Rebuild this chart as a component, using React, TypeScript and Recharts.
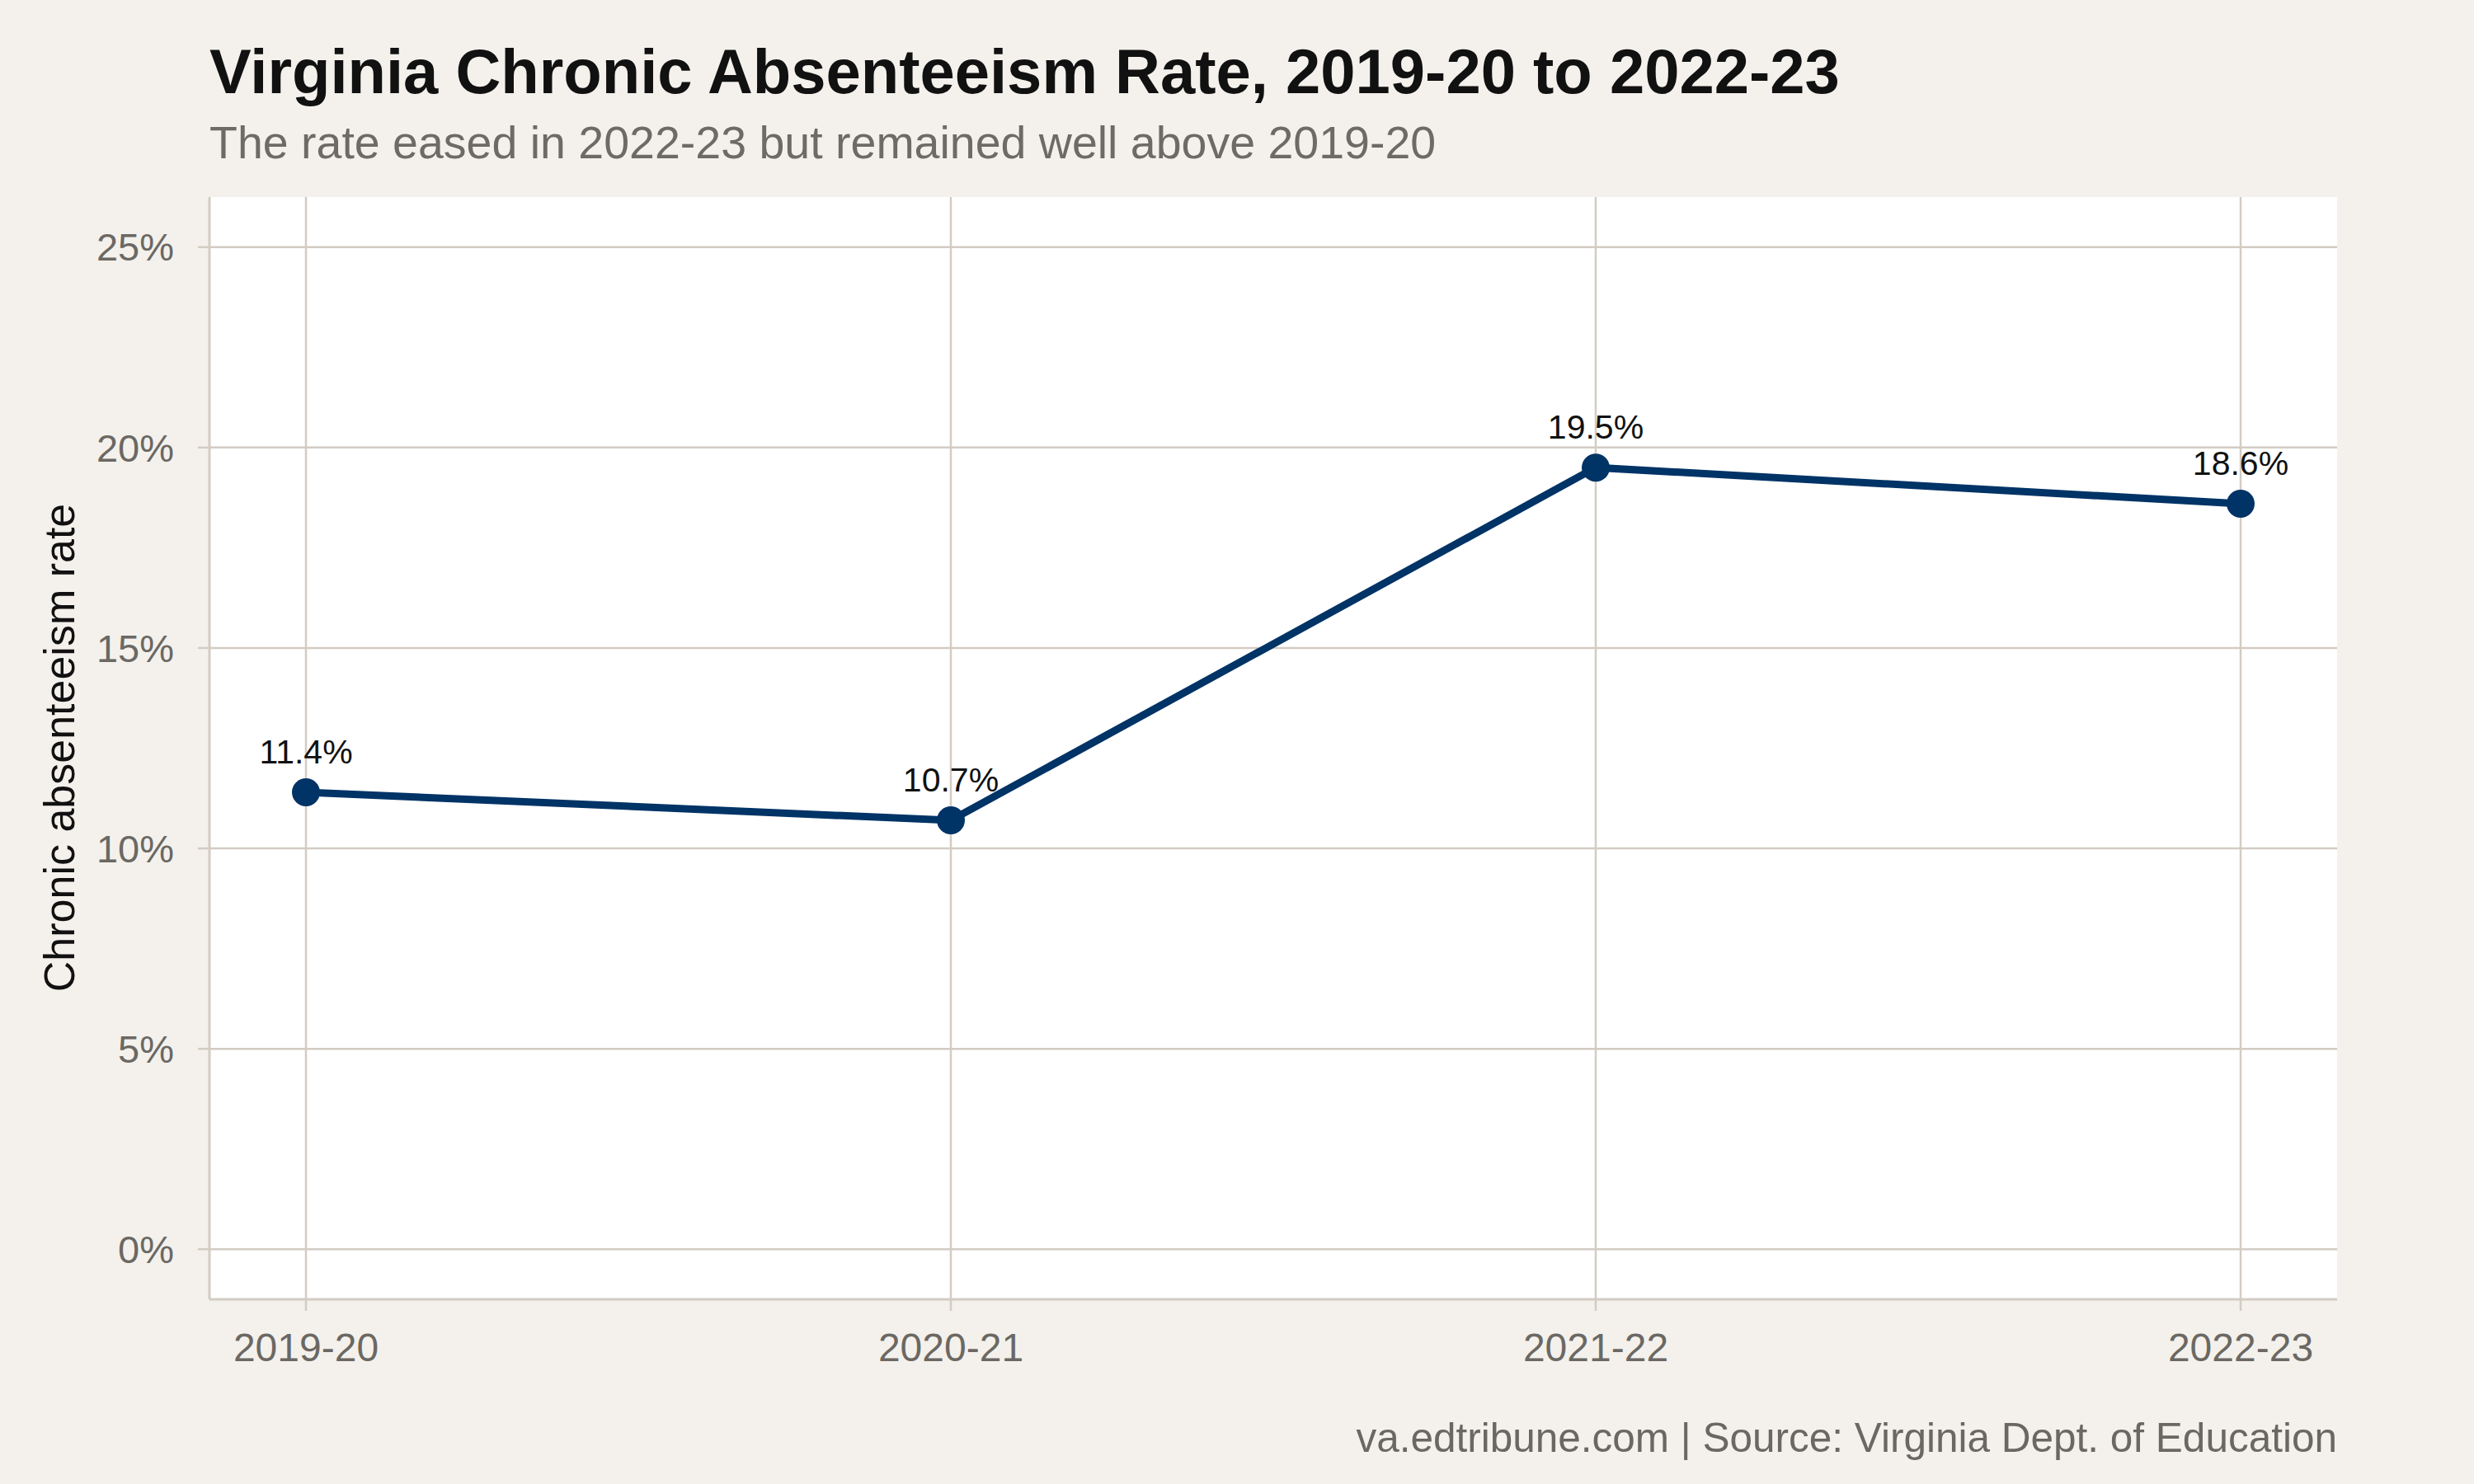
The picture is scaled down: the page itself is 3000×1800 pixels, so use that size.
import React from 'react';
import { LineChart, Line, XAxis, YAxis, CartesianGrid, LabelList } from 'recharts';

const years = ['2019-20', '2020-21', '2021-22', '2022-23'];
const rates = [11.4, 10.7, 19.5, 18.6];
const yTicks = [0, 5, 10, 15, 20, 25];

const FONT = '"Liberation Sans", Arial, Helvetica, sans-serif';
const BG = '#f4f1ec';
const GRID = '#d2ccc3';
const GREY_TEXT = '#6b6863';
const NAVY = '#003366';

const chartData = years.map((year, i) => ({ year, rate: rates[i] }));

export default function App() {
    return (
        <div style={{ position: 'relative', width: 3000, height: 1800, background: BG, fontFamily: FONT }}>
            <style>{'body { margin: 0; }'}</style>
            <LineChart
                width={3000}
                height={1800}
                data={chartData}
                margin={{ top: 239, right: 166, bottom: 164, left: 0 }}
            >
                {/* white panel; grid lines only at ticks, no panel border */}
                <CartesianGrid
                    fill="#ffffff"
                    stroke={GRID}
                    strokeWidth={2.5}
                    syncWithTicks
                />
                <XAxis
                    dataKey="year"
                    padding={{ left: 117, right: 117 }}
                    height={60}
                    axisLine={{ stroke: GRID, strokeWidth: 3 }}
                    tickLine={{ stroke: GRID, strokeWidth: 2.5 }}
                    tickSize={14}
                    tickMargin={27}
                    tick={{ fill: GREY_TEXT, fontSize: 48, fontFamily: FONT }}
                />
                <YAxis
                    width={254}
                    domain={[-1.25, 26.25]}
                    ticks={yTicks}
                    allowDataOverflow
                    axisLine={{ stroke: GRID, strokeWidth: 3 }}
                    tickLine={{ stroke: GRID, strokeWidth: 2.5 }}
                    tickSize={14}
                    tickMargin={29}
                    tickFormatter={(v) => `${v}%`}
                    tick={{ fill: GREY_TEXT, fontSize: 47, fontFamily: FONT }}
                />
                <Line
                    type="linear"
                    dataKey="rate"
                    stroke={NAVY}
                    strokeWidth={9}
                    dot={{ r: 17, fill: NAVY, stroke: NAVY, strokeWidth: 0 }}
                    activeDot={false}
                    isAnimationActive={false}
                >
                    <LabelList
                        dataKey="rate"
                        position="top"
                        offset={35}
                        formatter={(v) => `${v}%`}
                        fill="#111111"
                        fontSize={41}
                        fontFamily={FONT}
                    />
                </Line>
            </LineChart>
            <svg
                width={3000}
                height={1800}
                style={{ position: 'absolute', left: 0, top: 0, pointerEvents: 'none' }}
            >
                <text x={254} y={113} fontSize={76} fontWeight="bold" fill="#111111" fontFamily={FONT}>
                    Virginia Chronic Absenteeism Rate, 2019-20 to 2022-23
                </text>
                <text x={254} y={192} fontSize={55.5} fill="#6e6b66" fontFamily={FONT}>
                    The rate eased in 2022-23 but remained well above 2019-20
                </text>
                <text
                    x={90}
                    y={907}
                    fontSize={52}
                    fill="#111111"
                    fontFamily={FONT}
                    textAnchor="middle"
                    transform="rotate(-90, 90, 907)"
                >
                    Chronic absenteeism rate
                </text>
                <text x={2834} y={1761} fontSize={49.5} fill={GREY_TEXT} fontFamily={FONT} textAnchor="end">
                    va.edtribune.com | Source: Virginia Dept. of Education
                </text>
            </svg>
        </div>
    );
}
